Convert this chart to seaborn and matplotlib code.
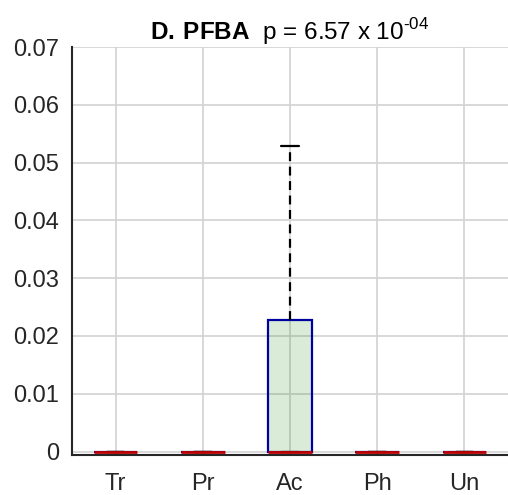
import pandas as pd
import numpy as np
import matplotlib
matplotlib.use('Agg')
import matplotlib.pyplot as plt
import seaborn as sns

# Datos: concentraciones PFBA por grupo
grupos = ['Tr', 'Pr', 'Ac', 'Ph', 'Un']
valores_tr = [0.0, 0.0, 0.0, 0.0, 0.0]
valores_pr = [0.0, 0.0, 0.0, 0.0, 0.0]
valores_ac = [0.0, 0.0, 0.0, 0.0227, 0.0528]
valores_ph = [0.0, 0.0, 0.0, 0.0, 0.0]
valores_un = [0.0, 0.0, 0.0, 0.0, 0.0]
y_ticks = [0, 0.01, 0.02, 0.03, 0.04, 0.05, 0.06, 0.07]
y_labels = ['0', '0.01', '0.02', '0.03', '0.04', '0.05', '0.06', '0.07']

df = pd.DataFrame({
    'grupo': np.repeat(grupos, 5),
    'valor': valores_tr + valores_pr + valores_ac + valores_ph + valores_un,
})

sns.set_style('white')
plt.rcParams['font.family'] = ['Liberation Sans', 'DejaVu Sans']
plt.rcParams['mathtext.fontset'] = 'custom'
plt.rcParams['mathtext.rm'] = 'Liberation Sans'
plt.rcParams['mathtext.bf'] = 'Liberation Sans:bold'

fig = plt.figure(figsize=(5.08, 4.95), dpi=100)
ax = fig.add_axes([72 / 508, 1 - 455 / 495, 436 / 508, 408 / 495])

# relleno verde semitransparente (la rejilla se ve a través de la caja)
relleno = (0.1, 0.55, 0.05, 0.16)

sns.boxplot(data=df, x='grupo', y='valor', order=grupos, ax=ax,
            width=0.5, color='#d9ecd5', linecolor='#0000a0', linewidth=1.5,
            showfliers=False, whis=1.5,
            boxprops={'edgecolor': '#0000a0', 'facecolor': relleno, 'linewidth': 1.6},
            whiskerprops={'color': 'black', 'linestyle': (0, (4, 2.5)), 'linewidth': 1.6},
            capprops={'color': 'black', 'linewidth': 1.6},
            medianprops={'color': '#c00000', 'linewidth': 2},
            capwidths=0.2)

ax.set_ylim(-0.0006, 0.07)
ax.set_xlim(-0.5, 4.5)
ax.set_yticks(y_ticks)
ax.set_yticklabels(y_labels)
ax.set_xlabel('')
ax.set_ylabel('')
ax.grid(True, color='#d2d2d2', linewidth=1.2)
ax.set_axisbelow(True)
sns.despine(ax=ax, top=True, right=True)
for s in ['left', 'bottom']:
    ax.spines[s].set_color('#262626')
    ax.spines[s].set_linewidth(1.5)
ax.tick_params(axis='both', direction='out', length=5, width=1.5,
               color='#262626', labelsize=17, labelcolor='#262626')
ax.tick_params(axis='y', pad=4)
ax.tick_params(axis='x', pad=8)

ax.set_title(r'$\mathbf{D.\,PFBA}$  p = 6.57 x 10$^{\text{-04}}$',
             fontsize=17.5, pad=5, color='black')

fig.savefig('out.png', dpi=100)
